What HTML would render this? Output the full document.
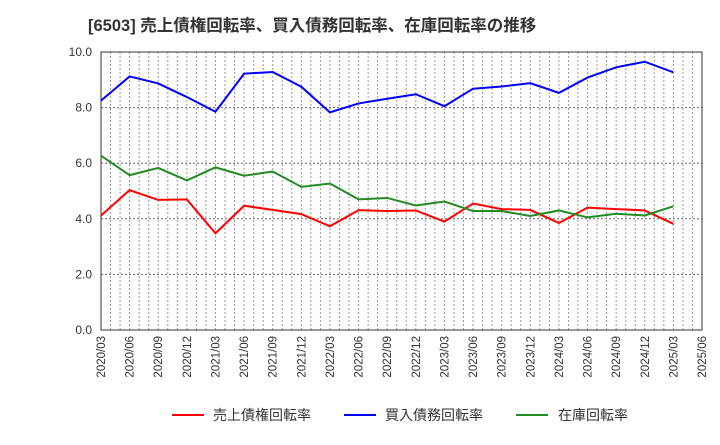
<!DOCTYPE html>
<html><head><meta charset="utf-8"><style>
body{margin:0;background:#fff;width:720px;height:440px;overflow:hidden;font-family:"Liberation Sans","Noto Sans CJK JP",sans-serif;}
</style></head><body>
<svg id="chart" width="720" height="440" xmlns="http://www.w3.org/2000/svg" font-family="Liberation Sans, Noto Sans CJK JP, sans-serif">
<text x="88" y="31" font-size="16.5" font-weight="bold" fill="#333">[6503]  売上債権回転率、買入債務回転率、在庫回転率の推移</text>
<g id="grid"></g><g id="axes"></g><g id="series"></g>
<g font-size="14" fill="#333">
<line x1="172" y1="415" x2="204" y2="415" stroke="#f00" stroke-width="2"/><text x="213" y="420">売上債権回転率</text>
<line x1="344" y1="415" x2="376" y2="415" stroke="#00f" stroke-width="2"/><text x="385" y="420">買入債務回転率</text>
<line x1="516" y1="415" x2="548" y2="415" stroke="#228b22" stroke-width="2"/><text x="558" y="420">在庫回転率</text>
</g>
</svg>
<script>
const categories=["2020/03","2020/06","2020/09","2020/12","2021/03","2021/06","2021/09","2021/12","2022/03","2022/06","2022/09","2022/12","2023/03","2023/06","2023/09","2023/12","2024/03","2024/06","2024/09","2024/12","2025/03"];
const tickLabels=["2020/03","2020/06","2020/09","2020/12","2021/03","2021/06","2021/09","2021/12","2022/03","2022/06","2022/09","2022/12","2023/03","2023/06","2023/09","2023/12","2024/03","2024/06","2024/09","2024/12","2025/03","2025/06"];
const yTicks=[0,2,4,6,8,10];
const receivables=[4.12,5.03,4.68,4.70,3.48,4.47,4.32,4.17,3.73,4.31,4.28,4.30,3.90,4.55,4.35,4.32,3.85,4.40,4.35,4.30,3.82];
const payables=[8.25,9.12,8.87,8.38,7.85,9.22,9.28,8.75,7.83,8.15,8.32,8.48,8.05,8.68,8.76,8.88,8.53,9.08,9.45,9.65,9.27];
const inventory=[6.27,5.57,5.83,5.38,5.85,5.55,5.70,5.15,5.27,4.70,4.75,4.48,4.62,4.28,4.28,4.10,4.30,4.05,4.18,4.12,4.45];
const NS="http://www.w3.org/2000/svg";
const L=101,R=702,T=52,B=330,nMonths=(tickLabels.length-1)*3;
const xm=m=>L+(R-L)*m/nMonths;
const xq=i=>xm(i*3);
const y=v=>B-(B-T)*v/10;
function mk(p,t,a){const e=document.createElementNS(NS,t);for(const k in a)e.setAttribute(k,a[k]);p.appendChild(e);return e;}
const grid=document.getElementById('grid'),axes=document.getElementById('axes'),ser=document.getElementById('series');
for(let m=1;m<nMonths;m++){const l=mk(grid,'line',{x1:xm(m),x2:xm(m),y1:T,y2:B,stroke:'#999','stroke-width':1,'stroke-dasharray':'2,2'});

}
yTicks.forEach(v=>{if(v>0&&v<10){const l=mk(grid,'line',{x1:L,x2:R,y1:y(v),y2:y(v),stroke:'#666','stroke-width':1,'stroke-dasharray':'2,2'});

}
const t=mk(axes,'text',{x:L-9,y:y(v)+4,'text-anchor':'end','font-size':12,fill:'#333'});t.textContent=v.toFixed(1);

});
const f=mk(axes,'rect',{x:L,y:T,width:R-L,height:B-T,fill:'none',stroke:'#333','stroke-width':1});


tickLabels.forEach((s,i)=>{const x=xq(i);const t=mk(axes,'text',{x:x+4,y:B+6,'text-anchor':'end','font-size':11.5,fill:'#333',transform:`rotate(-90 ${x+4} ${B+6})`});t.textContent=s;

});
[[receivables,'#f00','receivables-line'],[payables,'#00f','payables-line'],[inventory,'#228b22','inventory-line']].forEach(([d,c,n])=>{
const p=mk(ser,'polyline',{points:d.map((v,i)=>xq(i)+','+y(v)).join(' '),fill:'none',stroke:c,'stroke-width':2});

});
</script>
</body></html>
